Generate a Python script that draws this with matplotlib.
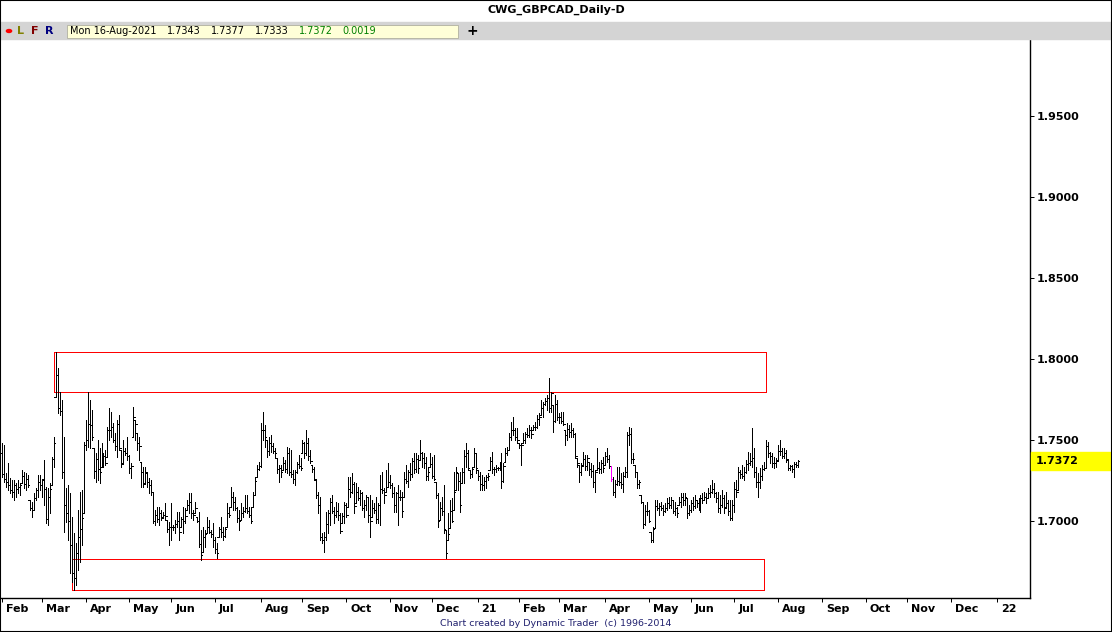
import numpy as np
import pandas as pd
import matplotlib
matplotlib.use("Agg")
import matplotlib.pyplot as plt
from matplotlib.patches import Rectangle
from matplotlib import transforms

# ---- data (GBPCAD daily) ----
first_day = "2020-02-03"
last_day = "2021-08-16"
marked_day = "2021-04-06"   # bar drawn in magenta

highs = [
    1.7479, 1.7469, 1.7294, 1.7356, 1.7263, 1.7253, 1.7253, 1.7232, 1.7253, 1.7232, 1.7314, 1.7304, 1.7294, 1.7284, 1.7129, 1.7119, 1.7170, 1.7201, 1.7284, 1.7284, 1.7253, 1.7376, 1.7212, 1.7201, 1.7232, 1.7397, 1.7520, 1.8045, 1.7942, 1.7798, 1.7747, 1.7520, 1.7201, 1.7222, 1.7170, 1.7026, 1.6923, 1.6862, 1.7067, 1.7181, 1.7191, 1.7489, 1.7623, 1.7798, 1.7747, 1.7685, 1.7448, 1.7417, 1.7500, 1.7448,
    1.7479, 1.7417, 1.7438, 1.7582, 1.7695, 1.7675, 1.7602, 1.7541, 1.7623, 1.7654, 1.7438, 1.7500, 1.7448, 1.7520, 1.7407, 1.7356, 1.7705, 1.7623, 1.7541, 1.7520, 1.7366, 1.7335, 1.7335, 1.7294, 1.7263, 1.7253, 1.7181, 1.7067, 1.7088, 1.7088, 1.7067, 1.7057, 1.7109, 1.7006, 1.6995, 1.7109, 1.6975, 1.7006, 1.7057, 1.7057, 1.7026, 1.7088, 1.7078, 1.7129, 1.7170, 1.7170, 1.7067, 1.7119, 1.7026, 1.7057,
    1.6944, 1.6964, 1.6944, 1.7026, 1.7006, 1.6944, 1.6985, 1.6903, 1.6862, 1.6964, 1.7026, 1.6964, 1.6964, 1.7109, 1.7078, 1.7212, 1.7181, 1.7150, 1.7088, 1.7067, 1.7109, 1.7088, 1.7160, 1.7160, 1.7088, 1.7078, 1.7181, 1.7273, 1.7345, 1.7366, 1.7602, 1.7675, 1.7592, 1.7500, 1.7520, 1.7530, 1.7479, 1.7448, 1.7386, 1.7345, 1.7345, 1.7397, 1.7376, 1.7458, 1.7448, 1.7438, 1.7314, 1.7314, 1.7366, 1.7407,
    1.7386, 1.7500, 1.7489, 1.7561, 1.7510, 1.7438, 1.7345, 1.7335, 1.7253, 1.7181, 1.7150, 1.6923, 1.6934, 1.7057, 1.7067, 1.7139, 1.7160, 1.7088, 1.7119, 1.7109, 1.7047, 1.7047, 1.7119, 1.7109, 1.7273, 1.7273, 1.7294, 1.7242, 1.7232, 1.7212, 1.7191, 1.7181, 1.7129, 1.7160, 1.7150, 1.7160, 1.7129, 1.7109, 1.7150, 1.7109, 1.7284, 1.7304, 1.7201, 1.7314, 1.7356, 1.7284, 1.7232, 1.7212, 1.7181, 1.7222,
    1.7191, 1.7181, 1.7304, 1.7345, 1.7314, 1.7356, 1.7386, 1.7417, 1.7417, 1.7407, 1.7500, 1.7428, 1.7417, 1.7397, 1.7335, 1.7417, 1.7397, 1.7407, 1.7242, 1.7170, 1.7119, 1.7150, 1.7222, 1.6944, 1.7047, 1.7129, 1.7139, 1.7304, 1.7335, 1.7294, 1.7304, 1.7325, 1.7438, 1.7479, 1.7438, 1.7314, 1.7335, 1.7448, 1.7417, 1.7314, 1.7304, 1.7284, 1.7273, 1.7284, 1.7294, 1.7397, 1.7428, 1.7335, 1.7345, 1.7335,
    1.7366, 1.7417, 1.7356, 1.7448, 1.7458, 1.7541, 1.7613, 1.7644, 1.7572, 1.7572, 1.7479, 1.7479, 1.7541, 1.7551, 1.7572, 1.7592, 1.7582, 1.7592, 1.7613, 1.7654, 1.7664, 1.7747, 1.7736, 1.7757, 1.7777, 1.7880, 1.7798, 1.7716, 1.7777, 1.7747, 1.7664, 1.7675, 1.7675, 1.7561, 1.7602, 1.7592, 1.7602, 1.7572, 1.7541, 1.7386, 1.7345, 1.7356, 1.7428, 1.7407, 1.7407, 1.7366, 1.7356, 1.7345, 1.7314, 1.7448,
    1.7366, 1.7376, 1.7397, 1.7428, 1.7448, 1.7407, 1.7340, 1.7273, 1.7253, 1.7335, 1.7335, 1.7294, 1.7304, 1.7335, 1.7551, 1.7582, 1.7572, 1.7417, 1.7345, 1.7304, 1.7253, 1.7160, 1.7119, 1.7098, 1.7119, 1.7067, 1.6934, 1.6964, 1.7129, 1.7129, 1.7109, 1.7119, 1.7098, 1.7109, 1.7139, 1.7150, 1.7150, 1.7129, 1.7119, 1.7088, 1.7150, 1.7170, 1.7170, 1.7170, 1.7139, 1.7098, 1.7129, 1.7150, 1.7160, 1.7129,
    1.7139, 1.7160, 1.7170, 1.7181, 1.7170, 1.7201, 1.7222, 1.7253, 1.7232, 1.7181, 1.7181, 1.7160, 1.7191, 1.7160, 1.7181, 1.7129, 1.7129, 1.7129, 1.7242, 1.7253, 1.7335, 1.7314, 1.7345, 1.7335, 1.7376, 1.7428, 1.7417, 1.7572, 1.7448, 1.7335, 1.7294, 1.7325, 1.7345, 1.7366, 1.7500, 1.7489, 1.7428, 1.7417, 1.7397, 1.7386, 1.7469, 1.7500, 1.7448, 1.7448, 1.7438, 1.7376, 1.7345, 1.7345, 1.7366, 1.7366, 1.7377,
]

lows = [
    1.7273, 1.7242, 1.7212, 1.7191, 1.7170, 1.7150, 1.7129, 1.7150, 1.7170, 1.7160, 1.7232, 1.7201, 1.7191, 1.7212, 1.7067, 1.7026, 1.7067, 1.7129, 1.7150, 1.7191, 1.7150, 1.7098, 1.6985, 1.6975, 1.7047, 1.7222, 1.7335, 1.7767, 1.7664, 1.7654, 1.7263, 1.6934, 1.6995, 1.6882, 1.6676, 1.6625, 1.6574, 1.6604, 1.6697, 1.6748, 1.6851, 1.7047, 1.7438, 1.7458, 1.7448, 1.7500, 1.7263, 1.7242, 1.7253, 1.7232,
    1.7335, 1.7335, 1.7345, 1.7397, 1.7500, 1.7520, 1.7489, 1.7438, 1.7397, 1.7438, 1.7335, 1.7356, 1.7407, 1.7376, 1.7294, 1.7263, 1.7520, 1.7500, 1.7438, 1.7376, 1.7212, 1.7212, 1.7232, 1.7212, 1.7170, 1.7160, 1.6985, 1.6975, 1.6995, 1.6975, 1.7006, 1.7026, 1.7006, 1.6934, 1.6851, 1.6882, 1.6944, 1.6923, 1.6964, 1.6882, 1.6964, 1.6923, 1.6985, 1.7067, 1.7047, 1.7016, 1.7006, 1.7047, 1.6995, 1.6841,
    1.6759, 1.6810, 1.6841, 1.6923, 1.6923, 1.6903, 1.6841, 1.6800, 1.6769, 1.6903, 1.6903, 1.6882, 1.6903, 1.6964, 1.7026, 1.7088, 1.7067, 1.7067, 1.6995, 1.6944, 1.7006, 1.7026, 1.7057, 1.7047, 1.7026, 1.6985, 1.7088, 1.7160, 1.7273, 1.7314, 1.7335, 1.7500, 1.7458, 1.7397, 1.7407, 1.7428, 1.7417, 1.7397, 1.7294, 1.7242, 1.7273, 1.7314, 1.7304, 1.7294, 1.7284, 1.7273, 1.7232, 1.7222, 1.7294, 1.7325,
    1.7314, 1.7417, 1.7386, 1.7407, 1.7376, 1.7356, 1.7304, 1.7253, 1.7139, 1.7047, 1.6882, 1.6862, 1.6810, 1.6882, 1.6923, 1.6975, 1.7047, 1.6985, 1.7026, 1.7006, 1.6923, 1.6985, 1.6985, 1.7026, 1.7088, 1.7150, 1.7170, 1.7047, 1.7109, 1.7129, 1.7098, 1.7067, 1.7026, 1.7067, 1.6995, 1.6903, 1.7026, 1.7047, 1.6985, 1.6985, 1.6975, 1.7170, 1.7109, 1.7181, 1.7212, 1.7201, 1.7150, 1.7057, 1.7057, 1.6975,
    1.7129, 1.7026, 1.7150, 1.7232, 1.7212, 1.7253, 1.7273, 1.7294, 1.7304, 1.7294, 1.7376, 1.7335, 1.7325, 1.7253, 1.7253, 1.7335, 1.7263, 1.7253, 1.7139, 1.6964, 1.7006, 1.7037, 1.6923, 1.6769, 1.6882, 1.6954, 1.6995, 1.7067, 1.7191, 1.7191, 1.7057, 1.7232, 1.7232, 1.7335, 1.7314, 1.7263, 1.7273, 1.7335, 1.7294, 1.7253, 1.7191, 1.7191, 1.7191, 1.7201, 1.7253, 1.7314, 1.7294, 1.7284, 1.7304, 1.7314,
    1.7314, 1.7201, 1.7242, 1.7366, 1.7407, 1.7438, 1.7500, 1.7530, 1.7500, 1.7479, 1.7448, 1.7345, 1.7479, 1.7479, 1.7520, 1.7520, 1.7510, 1.7561, 1.7561, 1.7572, 1.7592, 1.7654, 1.7644, 1.7716, 1.7685, 1.7675, 1.7675, 1.7551, 1.7613, 1.7623, 1.7602, 1.7602, 1.7592, 1.7469, 1.7500, 1.7520, 1.7520, 1.7520, 1.7386, 1.7335, 1.7242, 1.7284, 1.7345, 1.7314, 1.7314, 1.7284, 1.7273, 1.7212, 1.7181, 1.7314,
    1.7294, 1.7294, 1.7304, 1.7345, 1.7366, 1.7325, 1.7245, 1.7160, 1.7150, 1.7222, 1.7222, 1.7201, 1.7181, 1.7273, 1.7273, 1.7469, 1.7356, 1.7356, 1.7273, 1.7201, 1.7201, 1.7109, 1.6954, 1.6975, 1.7037, 1.6995, 1.6872, 1.6872, 1.6954, 1.7067, 1.7037, 1.7067, 1.7037, 1.7057, 1.7067, 1.7078, 1.7078, 1.7047, 1.7037, 1.7026, 1.7098, 1.7088, 1.7098, 1.7098, 1.7016, 1.7037, 1.7057, 1.7067, 1.7078, 1.7088,
    1.7067, 1.7057, 1.7109, 1.7129, 1.7109, 1.7139, 1.7150, 1.7170, 1.7150, 1.7119, 1.7057, 1.7047, 1.7088, 1.7047, 1.7088, 1.7037, 1.7006, 1.7006, 1.7057, 1.7150, 1.7191, 1.7263, 1.7263, 1.7253, 1.7294, 1.7314, 1.7345, 1.7335, 1.7273, 1.7212, 1.7150, 1.7201, 1.7253, 1.7314, 1.7325, 1.7397, 1.7356, 1.7335, 1.7325, 1.7335, 1.7376, 1.7407, 1.7386, 1.7386, 1.7366, 1.7314, 1.7314, 1.7304, 1.7273, 1.7335, 1.7333,
]

opens = [
    1.7420, 1.7290, 1.7260, 1.7240, 1.7220, 1.7190, 1.7180, 1.7220, 1.7200, 1.7210, 1.7220, 1.7280, 1.7230, 1.7260, 1.7220, 1.7080, 1.7070, 1.7140, 1.7190, 1.7240, 1.7220, 1.7260, 1.7200, 1.7010, 1.7150, 1.7200, 1.7380, 1.7480, 1.7900, 1.7700, 1.7680, 1.7300, 1.7100, 1.7050, 1.7000, 1.6850, 1.6680, 1.6650, 1.6800, 1.6900, 1.6950, 1.7020, 1.7470, 1.7500, 1.7600, 1.7590, 1.7520, 1.7310, 1.7380, 1.7320,
    1.7300, 1.7350, 1.7400, 1.7360, 1.7560, 1.7560, 1.7580, 1.7500, 1.7460, 1.7600, 1.7450, 1.7350, 1.7430, 1.7420, 1.7400, 1.7330, 1.7340, 1.7640, 1.7600, 1.7480, 1.7460, 1.7300, 1.7230, 1.7300, 1.7240, 1.7220, 1.7180, 1.7000, 1.7040, 1.7010, 1.7050, 1.7020, 1.7040, 1.7030, 1.6950, 1.6960, 1.6960, 1.6960, 1.6980, 1.7000, 1.6930, 1.7010, 1.7000, 1.7030, 1.7100, 1.7120, 1.7050, 1.7040, 1.7080, 1.7000,
    1.6860, 1.6790, 1.6900, 1.6920, 1.6960, 1.6930, 1.6920, 1.6880, 1.6830, 1.6800, 1.6950, 1.6930, 1.6910, 1.6950, 1.7050, 1.7040, 1.7150, 1.7120, 1.7080, 1.7020, 1.7000, 1.7050, 1.7060, 1.7080, 1.7060, 1.7040, 1.7000, 1.7160, 1.7250, 1.7320, 1.7340, 1.7560, 1.7560, 1.7520, 1.7430, 1.7480, 1.7460, 1.7430, 1.7420, 1.7320, 1.7330, 1.7300, 1.7360, 1.7320, 1.7420, 1.7300, 1.7290, 1.7260, 1.7300, 1.7350,
    1.7340, 1.7330, 1.7480, 1.7420, 1.7480, 1.7400, 1.7370, 1.7320, 1.7260, 1.7160, 1.7100, 1.6900, 1.6880, 1.6900, 1.6980, 1.7050, 1.7120, 1.7060, 1.7040, 1.7060, 1.7040, 1.6940, 1.7030, 1.7100, 1.7040, 1.7200, 1.7180, 1.7230, 1.7090, 1.7180, 1.7140, 1.7170, 1.7080, 1.7100, 1.7150, 1.7040, 1.7000, 1.7080, 1.7070, 1.7010, 1.7100, 1.7200, 1.7190, 1.7160, 1.7210, 1.7240, 1.7220, 1.7170, 1.7100, 1.7170,
    1.7150, 1.7150, 1.7060, 1.7260, 1.7250, 1.7300, 1.7290, 1.7370, 1.7320, 1.7380, 1.7330, 1.7420, 1.7390, 1.7360, 1.7280, 1.7300, 1.7350, 1.7280, 1.7260, 1.7160, 1.7000, 1.7080, 1.7060, 1.6950, 1.6800, 1.6920, 1.7060, 1.7000, 1.7180, 1.7300, 1.7250, 1.7100, 1.7300, 1.7400, 1.7420, 1.7330, 1.7290, 1.7320, 1.7420, 1.7330, 1.7280, 1.7230, 1.7220, 1.7250, 1.7270, 1.7280, 1.7370, 1.7320, 1.7320, 1.7330,
    1.7330, 1.7340, 1.7250, 1.7340, 1.7420, 1.7440, 1.7520, 1.7560, 1.7560, 1.7520, 1.7500, 1.7470, 1.7470, 1.7500, 1.7540, 1.7530, 1.7560, 1.7540, 1.7580, 1.7580, 1.7630, 1.7640, 1.7700, 1.7720, 1.7740, 1.7760, 1.7700, 1.7790, 1.7620, 1.7720, 1.7640, 1.7640, 1.7620, 1.7600, 1.7530, 1.7570, 1.7550, 1.7560, 1.7540, 1.7400, 1.7360, 1.7300, 1.7340, 1.7380, 1.7340, 1.7390, 1.7320, 1.7310, 1.7240, 1.7300,
    1.7330, 1.7320, 1.7360, 1.7330, 1.7400, 1.7380, 1.7340, 1.7260, 1.7180, 1.7230, 1.7250, 1.7240, 1.7230, 1.7280, 1.7300, 1.7530, 1.7540, 1.7380, 1.7380, 1.7300, 1.7230, 1.7240, 1.7120, 1.6980, 1.7060, 1.7060, 1.7000, 1.6880, 1.6950, 1.7090, 1.7080, 1.7090, 1.7080, 1.7060, 1.7080, 1.7110, 1.7100, 1.7130, 1.7060, 1.7080, 1.7050, 1.7120, 1.7150, 1.7130, 1.7150, 1.7050, 1.7070, 1.7110, 1.7090, 1.7130,
    1.7110, 1.7090, 1.7140, 1.7130, 1.7150, 1.7140, 1.7170, 1.7180, 1.7200, 1.7170, 1.7140, 1.7080, 1.7100, 1.7140, 1.7080, 1.7110, 1.7060, 1.7020, 1.7100, 1.7200, 1.7180, 1.7300, 1.7290, 1.7280, 1.7300, 1.7350, 1.7360, 1.7370, 1.7390, 1.7300, 1.7240, 1.7240, 1.7280, 1.7320, 1.7330, 1.7460, 1.7420, 1.7400, 1.7360, 1.7360, 1.7370, 1.7430, 1.7430, 1.7400, 1.7420, 1.7380, 1.7330, 1.7340, 1.7320, 1.7350, 1.7343,
]

closes = [
    1.7290, 1.7260, 1.7240, 1.7220, 1.7190, 1.7180, 1.7220, 1.7200, 1.7210, 1.7220, 1.7280, 1.7230, 1.7260, 1.7220, 1.7080, 1.7070, 1.7140, 1.7190, 1.7240, 1.7220, 1.7260, 1.7200, 1.7010, 1.7150, 1.7200, 1.7380, 1.7480, 1.7900, 1.7700, 1.7680, 1.7300, 1.7100, 1.7050, 1.7000, 1.6850, 1.6680, 1.6650, 1.6800, 1.6900, 1.6950, 1.7020, 1.7470, 1.7500, 1.7600, 1.7590, 1.7520, 1.7310, 1.7380, 1.7320, 1.7300,
    1.7350, 1.7400, 1.7360, 1.7560, 1.7560, 1.7580, 1.7500, 1.7460, 1.7600, 1.7450, 1.7350, 1.7430, 1.7420, 1.7400, 1.7330, 1.7340, 1.7640, 1.7600, 1.7480, 1.7460, 1.7300, 1.7230, 1.7300, 1.7240, 1.7220, 1.7180, 1.7000, 1.7040, 1.7010, 1.7050, 1.7020, 1.7040, 1.7030, 1.6950, 1.6960, 1.6960, 1.6960, 1.6980, 1.7000, 1.6930, 1.7010, 1.7000, 1.7030, 1.7100, 1.7120, 1.7050, 1.7040, 1.7080, 1.7000, 1.6860,
    1.6790, 1.6900, 1.6920, 1.6960, 1.6930, 1.6920, 1.6880, 1.6830, 1.6800, 1.6950, 1.6930, 1.6910, 1.6950, 1.7050, 1.7040, 1.7150, 1.7120, 1.7080, 1.7020, 1.7000, 1.7050, 1.7060, 1.7080, 1.7060, 1.7040, 1.7000, 1.7160, 1.7250, 1.7320, 1.7340, 1.7560, 1.7560, 1.7520, 1.7430, 1.7480, 1.7460, 1.7430, 1.7420, 1.7320, 1.7330, 1.7300, 1.7360, 1.7320, 1.7420, 1.7300, 1.7290, 1.7260, 1.7300, 1.7350, 1.7340,
    1.7330, 1.7480, 1.7420, 1.7480, 1.7400, 1.7370, 1.7320, 1.7260, 1.7160, 1.7100, 1.6900, 1.6880, 1.6900, 1.6980, 1.7050, 1.7120, 1.7060, 1.7040, 1.7060, 1.7040, 1.6940, 1.7030, 1.7100, 1.7040, 1.7200, 1.7180, 1.7230, 1.7090, 1.7180, 1.7140, 1.7170, 1.7080, 1.7100, 1.7150, 1.7040, 1.7000, 1.7080, 1.7070, 1.7010, 1.7100, 1.7200, 1.7190, 1.7160, 1.7210, 1.7240, 1.7220, 1.7170, 1.7100, 1.7170, 1.7150,
    1.7150, 1.7060, 1.7260, 1.7250, 1.7300, 1.7290, 1.7370, 1.7320, 1.7380, 1.7330, 1.7420, 1.7390, 1.7360, 1.7280, 1.7300, 1.7350, 1.7280, 1.7260, 1.7160, 1.7000, 1.7080, 1.7060, 1.6950, 1.6800, 1.6920, 1.7060, 1.7000, 1.7180, 1.7300, 1.7250, 1.7100, 1.7300, 1.7400, 1.7420, 1.7330, 1.7290, 1.7320, 1.7420, 1.7330, 1.7280, 1.7230, 1.7220, 1.7250, 1.7270, 1.7280, 1.7370, 1.7320, 1.7320, 1.7330, 1.7330,
    1.7340, 1.7250, 1.7340, 1.7420, 1.7440, 1.7520, 1.7560, 1.7560, 1.7520, 1.7500, 1.7470, 1.7470, 1.7500, 1.7540, 1.7530, 1.7560, 1.7540, 1.7580, 1.7580, 1.7630, 1.7640, 1.7700, 1.7720, 1.7740, 1.7760, 1.7700, 1.7790, 1.7620, 1.7720, 1.7640, 1.7640, 1.7620, 1.7600, 1.7530, 1.7570, 1.7550, 1.7560, 1.7540, 1.7400, 1.7360, 1.7300, 1.7340, 1.7380, 1.7340, 1.7390, 1.7320, 1.7310, 1.7240, 1.7300, 1.7330,
    1.7320, 1.7360, 1.7330, 1.7400, 1.7380, 1.7340, 1.7260, 1.7180, 1.7230, 1.7250, 1.7240, 1.7230, 1.7280, 1.7300, 1.7530, 1.7540, 1.7380, 1.7380, 1.7300, 1.7230, 1.7240, 1.7120, 1.6980, 1.7060, 1.7060, 1.7000, 1.6880, 1.6950, 1.7090, 1.7080, 1.7090, 1.7080, 1.7060, 1.7080, 1.7110, 1.7100, 1.7130, 1.7060, 1.7080, 1.7050, 1.7120, 1.7150, 1.7130, 1.7150, 1.7050, 1.7070, 1.7110, 1.7090, 1.7130, 1.7110,
    1.7090, 1.7140, 1.7130, 1.7150, 1.7140, 1.7170, 1.7180, 1.7200, 1.7170, 1.7140, 1.7080, 1.7100, 1.7140, 1.7080, 1.7110, 1.7060, 1.7020, 1.7100, 1.7200, 1.7180, 1.7300, 1.7290, 1.7280, 1.7300, 1.7350, 1.7360, 1.7370, 1.7390, 1.7300, 1.7240, 1.7240, 1.7280, 1.7320, 1.7330, 1.7460, 1.7420, 1.7400, 1.7360, 1.7360, 1.7370, 1.7430, 1.7430, 1.7400, 1.7420, 1.7380, 1.7330, 1.7340, 1.7320, 1.7350, 1.7343, 1.7372,
]

# support / resistance boxes drawn on the chart
upper_zone = ("2020-03-10", "2021-07-23", 1.7796, 1.8043)
lower_zone = ("2020-03-23", "2021-07-22", 1.6574, 1.6765)

y_ticks = [1.70, 1.75, 1.80, 1.85, 1.90, 1.95]
header_values = ["1.7343", "1.7377", "1.7333"]
header_change = ["1.7372", "0.0019"]

# ---- layout (pixels of the 1112x632 canvas) ----
W, H = 1112, 632
PLOT_RIGHT, PLOT_TOP, PLOT_BOTTOM = 1030, 39, 598
ONE_PX = 0.72  # one pixel in points at dpi 100


def fx(px):
    return px / W


def fy(py):
    return 1 - py / H


days = pd.bdate_range(first_day, last_day)
n = len(days)
assert n == len(highs) == len(lows) == len(opens) == len(closes)

x = np.arange(n)
hi = np.array(highs)
lo = np.array(lows)
op = np.clip(np.array(opens), lo, hi)
cl = np.clip(np.array(closes), lo, hi)

colors = ["black"] * n
colors[days.get_loc(pd.Timestamp(marked_day))] = "#ff00ff"

fig = plt.figure(figsize=(W / 100, H / 100), dpi=100)
fig.patch.set_facecolor("white")

ax = fig.add_axes([0, fy(PLOT_BOTTOM), fx(PLOT_RIGHT), (PLOT_BOTTOM - PLOT_TOP) / H])
ax.set_facecolor("white")

# bar spacing: 2 px per day, first bar at px 2
px_per_bar = 1.99
ax.set_xlim(-2 / px_per_bar, (PLOT_RIGHT - 2) / px_per_bar)
ax.set_ylim(1.7 - (PLOT_BOTTOM - 521) / 1620, 1.7 + (521 - PLOT_TOP) / 1620)

ax.vlines(x, lo, hi, colors=colors, linewidth=ONE_PX, antialiased=False)
ax.hlines(op, x - 0.75, x, colors=colors, linewidth=ONE_PX, antialiased=False)
ax.hlines(cl, x, x + 0.75, colors=colors, linewidth=ONE_PX, antialiased=False)

# red zones
for start, end, bottom, top in (upper_zone, lower_zone):
    i0 = days.get_loc(pd.Timestamp(start))
    i1 = days.get_loc(pd.Timestamp(end))
    ax.add_patch(Rectangle((i0, bottom), i1 - i0, top - bottom, fill=False,
                           edgecolor="red", linewidth=ONE_PX, antialiased=False))

# month axis: ticks at the first trading day, label just to the right
axis_days = pd.bdate_range(first_day, "2022-01-31")
tick_pos, tick_lab = [], []
for i, d in enumerate(axis_days):
    if i == 0 or d.month != axis_days[i - 1].month:
        if i > ax.get_xlim()[1]:
            break
        tick_pos.append(i)
        tick_lab.append("%02d" % (d.year % 100) if d.month == 1 else d.strftime("%b"))
ax.set_xticks(tick_pos)
ax.set_xticklabels([])
ax.tick_params(axis="x", length=3, width=ONE_PX, color="black")
label_tr = (transforms.blended_transform_factory(ax.transData, ax.transAxes)
            + transforms.ScaledTranslation(4 / 100, -6 / 100, fig.dpi_scale_trans))
for pos, lab in zip(tick_pos, tick_lab):
    ax.text(pos, 0, lab, transform=label_tr, fontsize=8, fontweight="bold",
            ha="left", va="top", clip_on=False)

ax.yaxis.tick_right()
ax.set_yticks(y_ticks)
ax.set_yticklabels(["%.4f" % v for v in y_ticks], fontsize=8, fontweight="bold")
ax.tick_params(axis="y", length=3, width=ONE_PX, pad=2)

for side in ("left", "top"):
    ax.spines[side].set_visible(False)
for side in ("right", "bottom"):
    ax.spines[side].set_linewidth(1.0)

# last price flag on the price scale
fig.patches.append(Rectangle((fx(PLOT_RIGHT + 1), fy(470)), fx(W - PLOT_RIGHT - 1), 18 / H,
                             transform=fig.transFigure, color="#ffff00", zorder=3))
fig.text(fx(1036), fy(461), "%.4f" % closes[-1], fontsize=8, fontweight="bold",
         va="center", ha="left", zorder=4)

# title and toolbar
fig.text(fx(556), fy(10), "CWG_GBPCAD_Daily-D", fontsize=8, fontweight="bold",
         ha="center", va="center")
fig.patches.append(Rectangle((0, fy(39)), 1, 17 / H, transform=fig.transFigure,
                             color="#d4d4d4", zorder=1))
fig.patches.append(Rectangle((fx(67), fy(37.5)), fx(391), 13 / H, transform=fig.transFigure,
                             facecolor="#ffffd8", edgecolor="#b0b0a0", linewidth=0.6, zorder=2))
fig.patches.append(plt.Circle((fx(9), fy(31)), 2.6 / W, transform=fig.transFigure,
                              color="red", zorder=3))
for px, ch, col in ((21, "L", "#808000"), (35, "F", "#800000"), (49, "R", "#000080")):
    fig.text(fx(px), fy(31), ch, fontsize=8, fontweight="bold", color=col, ha="center", va="center")
stamp = pd.Timestamp(last_day).strftime("%a %d-%b-%Y")
fig.text(fx(70), fy(31), stamp, fontsize=7, ha="left", va="center")
for px, val in zip((167, 211, 255), header_values):
    fig.text(fx(px), fy(31), val, fontsize=7, ha="left", va="center")
for px, val in zip((299, 342), header_change):
    fig.text(fx(px), fy(31), val, fontsize=7, ha="left", va="center", color="#008000")
fig.text(fx(472), fy(31), "+", fontsize=10, fontweight="bold", ha="center", va="center")

fig.text(fx(556), fy(624), "Chart created by Dynamic Trader  (c) 1996-2014", fontsize=6.8,
         color="#20206e", ha="center", va="center")

# outer frame
fig.patches.append(Rectangle((0, 0), 1, 1, transform=fig.transFigure, fill=False,
                             edgecolor="black", linewidth=1.5, zorder=5))

fig.savefig("out.png", dpi=100)
